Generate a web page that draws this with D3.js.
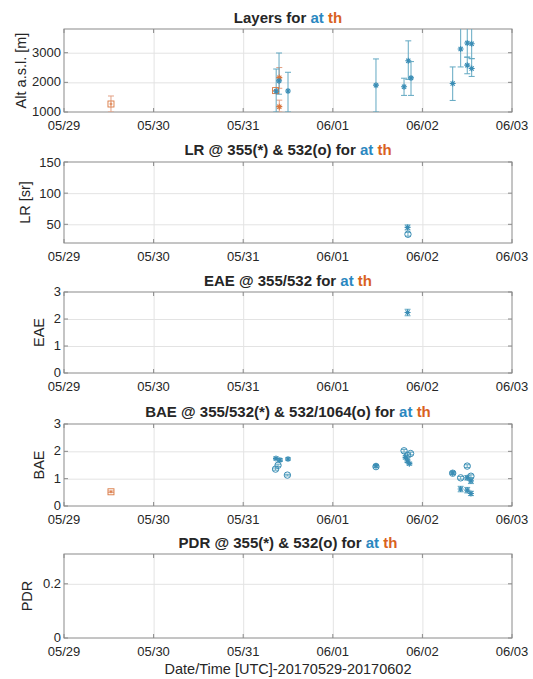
<!DOCTYPE html>
<html>
<head>
<meta charset="utf-8">
<script src="https://cdn.jsdelivr.net/npm/d3@7"></script>
<style>
  body { margin: 0; background: #fff; }
  svg text { font-family: "Liberation Sans", Arial, Helvetica, sans-serif; fill: #262626; }
  .grid line { stroke: #e3e3e3; stroke-width: 1; }
  .frame { fill: none; stroke: #8a8a8a; stroke-width: 1; }
  .tick-in { stroke: #8a8a8a; stroke-width: 1; }
  .ticklab { font-size: 13px; }
  .title { font-size: 15px; font-weight: bold; }
  .label { font-size: 14.5px; }
</style>
</head>
<body>
<div id="chart"></div>
<script>
// Lidar summary for 2017-05-29..2017-06-02, station "at" (blue) and "th" (orange)

var dayTicks = ["2017-05-29", "2017-05-30", "2017-05-31", "2017-06-01", "2017-06-02", "2017-06-03"];

// Layers: altitude of layer centre with base / top as error bar
var layersAt = [
    {t: "2017-05-31T08:50", v: 1700, lo: 1000, hi: 2450},
    {t: "2017-05-31T09:36", v: 2050, lo: 1600, hi: 2990},
    {t: "2017-05-31T12:00", v: 1710, lo: 1000, hi: 2340},
    {t: "2017-06-01T11:34", v: 1905, lo: 1000, hi: 2790},
    {t: "2017-06-01T19:05", v: 1850, lo: 1560, hi: 2140},
    {t: "2017-06-01T20:13", v: 2730, lo: 2100, hi: 3400},
    {t: "2017-06-01T20:57", v: 2150, lo: 1560, hi: 2700},
    {t: "2017-06-02T08:07", v: 1960, lo: 1390, hi: 2520},
    {t: "2017-06-02T10:15", v: 3125, lo: 2520, hi: 3900},
    {t: "2017-06-02T12:01", v: 3330, lo: 2850, hi: 3900},
    {t: "2017-06-02T12:01", v: 2580, lo: 2290, hi: 2850},
    {t: "2017-06-02T13:12", v: 3300, lo: 2800, hi: 3900},
    {t: "2017-06-02T13:12", v: 2470, lo: 2200, hi: 2800}
];
var layersTh = [
    {t: "2017-05-29T12:35", v: 1270, lo: 1000, hi: 1540},
    {t: "2017-05-31T08:40", v: 1722, lo: 1722, hi: 1722},
    {t: "2017-05-31T09:40", v: 2160, lo: 1800, hi: 2500},
    {t: "2017-05-31T09:40", v: 1180, lo: 1000, hi: 1400}
];

// Lidar ratio 355 (*) and 532 (o)
var lr355At = [{t: "2017-06-01T20:02", v: 45, lo: 41, hi: 49}];
var lr532At = [{t: "2017-06-01T20:08", v: 34, lo: 31, hi: 37}];

// Extinction Angstrom exponent
var eaeAt = [{t: "2017-06-01T20:02", v: 2.24, lo: 2.12, hi: 2.36}];

// Backscatter Angstrom exponent 355/532 (*) and 532/1064 (o)
var bae355At = [
    {t: "2017-05-31T08:47", v: 1.74, e: 0.05},
    {t: "2017-05-31T09:50", v: 1.68, e: 0.05},
    {t: "2017-05-31T12:00", v: 1.72, e: 0.04},
    {t: "2017-06-01T11:34", v: 1.47, e: 0.04},
    {t: "2017-06-01T19:30", v: 1.78, e: 0.06},
    {t: "2017-06-01T20:00", v: 1.65, e: 0.06},
    {t: "2017-06-01T20:30", v: 1.55, e: 0.05},
    {t: "2017-06-02T08:07", v: 1.21, e: 0.04},
    {t: "2017-06-02T10:15", v: 0.62, e: 0.1},
    {t: "2017-06-02T12:00", v: 1.03, e: 0.08},
    {t: "2017-06-02T12:00", v: 0.58, e: 0.1},
    {t: "2017-06-02T13:00", v: 0.92, e: 0.1},
    {t: "2017-06-02T13:00", v: 0.46, e: 0.08}
];
var bae532At = [
    {t: "2017-05-31T08:40", v: 1.35, e: 0.04},
    {t: "2017-05-31T09:20", v: 1.49, e: 0.04},
    {t: "2017-05-31T11:50", v: 1.13, e: 0.03},
    {t: "2017-06-01T11:34", v: 1.44, e: 0.04},
    {t: "2017-06-01T19:05", v: 2.02, e: 0.05},
    {t: "2017-06-01T20:00", v: 1.85, e: 0.05},
    {t: "2017-06-01T20:50", v: 1.92, e: 0.05},
    {t: "2017-06-02T08:07", v: 1.20, e: 0.04},
    {t: "2017-06-02T10:15", v: 1.03, e: 0.05},
    {t: "2017-06-02T12:00", v: 1.46, e: 0.05},
    {t: "2017-06-02T13:00", v: 1.09, e: 0.05}
];
var baeTh = [{t: "2017-05-29T12:35", v: 0.52, e: 0.03}];

var panels = [
    {title: "Layers for ", ylabel: "Alt a.s.l. [m]", top: 29, bottom: 112, domain: [1000, 3800], ticks: [1000, 2000, 3000], ylx: 21, titleY: 23},
    {title: "LR @ 355(*) & 532(o) for ", ylabel: "LR [sr]", top: 162, bottom: 243, domain: [20, 150], ticks: [50, 100, 150], ylx: 25, titleY: 155},
    {title: "EAE @ 355/532 for ", ylabel: "EAE", top: 292, bottom: 373, domain: [0, 3], ticks: [0, 1, 2, 3], ylx: 39, titleY: 286},
    {title: "BAE @ 355/532(*) & 532/1064(o) for ", ylabel: "BAE", top: 424, bottom: 506, domain: [0, 3], ticks: [0, 1, 2, 3], ylx: 39, titleY: 417},
    {title: "PDR @ 355(*) & 532(o) for ", ylabel: "PDR", top: 554, bottom: 638, domain: [0, 0.31], ticks: [0, 0.2], ylx: 27, titleY: 548}
];

var W = 533, H = 679;
var left = 64, right = 512;
var blue = "#2a87c0", orange = "#d9621e";
var blueMark = "#3a8db5", orangeMark = "#d9773f";
var blueBar = "#62a8c2", orangeBar = "#e3a084";

var parseT = d3.utcParse("%Y-%m-%dT%H:%M");
var parseD = d3.utcParse("%Y-%m-%d");
var fmtD = d3.utcFormat("%m/%d");

var svg = d3.select("#chart").append("svg")
    .attr("width", W)
    .attr("height", H);

var x = d3.scaleUtc()
    .domain([parseD(dayTicks[0]), parseD(dayTicks[dayTicks.length - 1])])
    .range([left, right]);
var xTicks = dayTicks.map(parseD);

// draw one panel frame, grid and labels, returns y scale
function drawPanel(p) {
    var y = d3.scaleLinear().domain(p.domain).range([p.bottom, p.top]);
    var g = svg.append("g");

    // gridlines
    g.append("g").attr("class", "grid")
        .attr("transform", "translate(0," + p.bottom + ")")
        .call(d3.axisBottom(x).tickValues(xTicks.slice(1, -1)).tickSize(-(p.bottom - p.top)).tickFormat(""))
        .call(function (s) { s.select(".domain").remove(); });
    g.append("g").attr("class", "grid")
        .attr("transform", "translate(" + left + ",0)")
        .call(d3.axisLeft(y).tickValues(p.ticks.filter(function (t) { return t > p.domain[0] && t < p.domain[1]; }))
            .tickSize(-(right - left)).tickFormat(""))
        .call(function (s) { s.select(".domain").remove(); });

    // inward ticks on all sides
    xTicks.forEach(function (t) {
        g.append("line").attr("class", "tick-in")
            .attr("x1", x(t)).attr("x2", x(t)).attr("y1", p.bottom).attr("y2", p.bottom - 4);
        g.append("line").attr("class", "tick-in")
            .attr("x1", x(t)).attr("x2", x(t)).attr("y1", p.top).attr("y2", p.top + 4);
    });
    p.ticks.forEach(function (t) {
        g.append("line").attr("class", "tick-in")
            .attr("x1", left).attr("x2", left + 4).attr("y1", y(t)).attr("y2", y(t));
        g.append("line").attr("class", "tick-in")
            .attr("x1", right).attr("x2", right - 4).attr("y1", y(t)).attr("y2", y(t));
    });

    g.append("rect").attr("class", "frame")
        .attr("x", left).attr("y", p.top)
        .attr("width", right - left).attr("height", p.bottom - p.top);

    // tick labels
    g.selectAll(".xl").data(xTicks).enter().append("text")
        .attr("class", "ticklab")
        .attr("x", function (d) { return x(d); })
        .attr("y", p.bottom + 18)
        .attr("text-anchor", "middle")
        .text(function (d) { return fmtD(d); });
    g.selectAll(".yl").data(p.ticks).enter().append("text")
        .attr("class", "ticklab")
        .attr("x", left - 3)
        .attr("y", function (d) { return y(d); })
        .attr("dy", d3.min(p.ticks) === p.domain[0] ? "0.3em" : "0.36em")
        .attr("text-anchor", "end")
        .text(function (d) { return d; });

    // title with coloured station names
    var tt = g.append("text").attr("class", "title")
        .attr("x", (left + right) / 2).attr("y", p.titleY)
        .attr("text-anchor", "middle");
    tt.append("tspan").text(p.title);
    tt.append("tspan").style("fill", blue).text("at");
    tt.append("tspan").text(" ");
    tt.append("tspan").style("fill", orange).text("th");

    g.append("text").attr("class", "label")
        .attr("transform", "translate(" + p.ylx + "," + ((p.top + p.bottom) / 2) + ") rotate(-90)")
        .attr("text-anchor", "middle")
        .attr("dy", "0.35em")
        .text(p.ylabel);

    return {g: g, y: y, p: p};
}

function errorBars(panel, data, color) {
    var gg = panel.g.append("g")
        .attr("clip-path", "url(#clip" + panel.p.top + ")");
    data.forEach(function (d) {
        var lo = d.lo !== undefined ? d.lo : d.v - d.e;
        var hi = d.hi !== undefined ? d.hi : d.v + d.e;
        var cx = x(parseT(d.t));
        gg.append("line").attr("x1", cx).attr("x2", cx)
            .attr("y1", panel.y(lo)).attr("y2", panel.y(hi))
            .attr("stroke", color).attr("stroke-width", 1);
        [lo, hi].forEach(function (v) {
            gg.append("line").attr("x1", cx - 3).attr("x2", cx + 3)
                .attr("y1", panel.y(v)).attr("y2", panel.y(v))
                .attr("stroke", color).attr("stroke-width", 1);
        });
    });
}

function markers(panel, data, type, color) {
    var gg = panel.g.append("g")
        .attr("clip-path", "url(#clip" + panel.p.top + ")");
    data.forEach(function (d) {
        var cx = x(parseT(d.t)), cy = panel.y(d.v);
        if (type === "star") {
            var r = 3;
            gg.append("path")
                .attr("d", "M" + (cx - r) + "," + cy + "h" + (2 * r) +
                    "M" + cx + "," + (cy - r) + "v" + (2 * r) +
                    "M" + (cx - r * 0.7) + "," + (cy - r * 0.7) + "l" + (1.4 * r) + "," + (1.4 * r) +
                    "M" + (cx - r * 0.7) + "," + (cy + r * 0.7) + "l" + (1.4 * r) + "," + (-1.4 * r))
                .attr("stroke", color).attr("stroke-width", 1.1).attr("fill", "none");
        } else if (type === "circle") {
            gg.append("circle").attr("cx", cx).attr("cy", cy).attr("r", 3.2)
                .attr("stroke", color).attr("stroke-width", 1).attr("fill", "none");
        } else if (type === "square") {
            gg.append("rect").attr("x", cx - 3).attr("y", cy - 3)
                .attr("width", 6).attr("height", 6)
                .attr("stroke", color).attr("stroke-width", 0.9).attr("fill", "none");
            gg.append("path")
                .attr("d", "M" + (cx - 1.5) + "," + cy + "h3M" + cx + "," + (cy - 1.5) + "v3")
                .attr("stroke", color).attr("stroke-width", 0.9);
        }
    });
}

// clip paths per panel
var defs = svg.append("defs");
panels.forEach(function (p) {
    defs.append("clipPath").attr("id", "clip" + p.top)
        .append("rect")
        .attr("x", left).attr("y", p.top)
        .attr("width", right - left).attr("height", p.bottom - p.top);
});

var P = panels.map(drawPanel);

// Layers
errorBars(P[0], layersTh, orangeBar);
errorBars(P[0], layersAt, blueBar);
markers(P[0], layersTh.slice(0, 2), "square", orangeMark);
markers(P[0], layersTh.slice(2), "star", orangeMark);
markers(P[0], layersAt, "star", blueMark);

// LR
errorBars(P[1], lr355At, blueBar);
errorBars(P[1], lr532At, blueBar);
markers(P[1], lr355At, "star", blueMark);
markers(P[1], lr532At, "circle", blueMark);

// EAE
errorBars(P[2], eaeAt, blueBar);
markers(P[2], eaeAt, "star", blueMark);

// BAE
errorBars(P[3], baeTh, orangeBar);
errorBars(P[3], bae355At, blueBar);
errorBars(P[3], bae532At, blueBar);
markers(P[3], baeTh, "square", orangeMark);
markers(P[3], bae355At, "star", blueMark);
markers(P[3], bae532At, "circle", blueMark);

// x label
svg.append("text").attr("class", "label")
    .attr("x", (left + right) / 2).attr("y", 674)
    .attr("text-anchor", "middle")
    .text("Date/Time [UTC]-20170529-20170602");
</script>
</body>
</html>
